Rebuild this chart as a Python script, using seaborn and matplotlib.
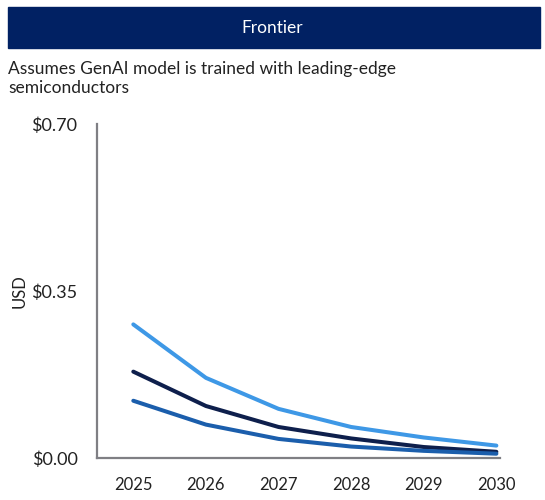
import pandas as pd
import matplotlib.pyplot as plt
import matplotlib.patches as patches
import seaborn as sns

# data
years = [2025, 2026, 2027, 2028, 2029, 2030]
high = [0.280, 0.168, 0.103, 0.065, 0.043, 0.026]
mid = [0.181, 0.109, 0.065, 0.041, 0.023, 0.013]
low = [0.120, 0.070, 0.040, 0.024, 0.015, 0.009]
series_names = ['High', 'Mid', 'Low']
colors = ['#3E98E6', '#0E1F4C', '#1B5EAC']

yticks = [0.0, 0.35, 0.70]
ytick_labels = ['$0.00', '$0.35', '$0.70']

df = pd.DataFrame({
    'year': years * 3,
    'usd': high + mid + low,
    'series': [n for n in series_names for _ in years],
})

sns.set_theme(style='white')
plt.rcParams['font.family'] = ['Lato', 'DejaVu Sans']

fig = plt.figure(figsize=(5.45, 5.0), dpi=100)

# header banner
fig.patches.append(patches.Rectangle((8 / 545, 1 - 48 / 500), 532 / 545, 41 / 500,
                                     transform=fig.transFigure, color='#012163', zorder=0))
fig.text(0.5, 1 - 28 / 500, 'Frontier', color='white', ha='center', va='center',
         fontsize=12.5)
fig.text(8 / 545, 1 - 61 / 500, 'Assumes GenAI model is trained with leading-edge\nsemiconductors',
         ha='left', va='top', fontsize=12.5, color='#222222', linespacing=1.2)

ax = fig.add_axes([97 / 545, 1 - 458 / 500, 403 / 545, 334 / 500])
sns.lineplot(data=df, x='year', y='usd', hue='series', palette=colors,
             linewidth=2.9, legend=False, ax=ax)

ax.set_xlim(2024.5, 2030.05)
ax.set_ylim(0, 0.70)
ax.set_xticks(years)
ax.set_xticklabels([str(y) for y in years], fontsize=12, color='#222222')
ax.set_yticks(yticks)
ax.set_yticklabels(ytick_labels, fontsize=13, color='#222222')
ax.tick_params(axis='x', length=0, pad=14)
ax.tick_params(axis='y', length=0, pad=14)
ax.set_xlabel('')
ax.set_ylabel('USD', fontsize=12, color='#222222')
ax.yaxis.set_label_coords(-0.172, 0.5)

sns.despine(ax=ax, top=True, right=True)
for side in ['left', 'bottom']:
    ax.spines[side].set_color('#7F7F84')
    ax.spines[side].set_linewidth(1.6)

fig.savefig('out.png', dpi=100)
